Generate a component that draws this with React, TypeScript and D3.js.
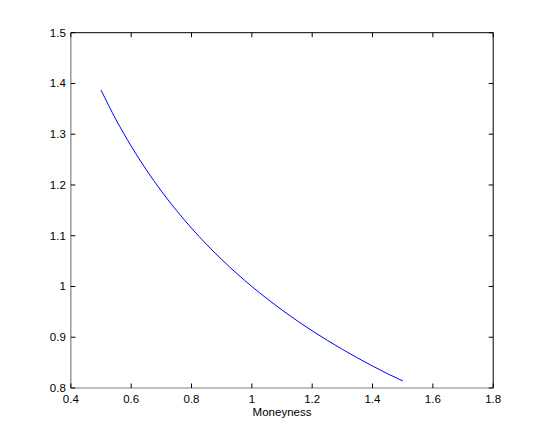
import React from "react";
import * as d3 from "d3";

const moneyness = [0.5, 0.55, 0.6, 0.65, 0.7, 0.75, 0.8, 0.85, 0.9, 0.95, 1.0, 1.05, 1.1, 1.15, 1.2, 1.25, 1.3, 1.35, 1.4, 1.45, 1.5];
const values = [1.387, 1.3283, 1.2765, 1.23, 1.188, 1.1498, 1.1149, 1.0828, 1.0532, 1.0256, 1.0, 0.9761, 0.9536, 0.9325, 0.9126, 0.8939, 0.8762, 0.8593, 0.8433, 0.8281, 0.814];
const xTicks = [0.4, 0.6, 0.8, 1, 1.2, 1.4, 1.6, 1.8];
const yTicks = [0.8, 0.9, 1, 1.1, 1.2, 1.3, 1.4, 1.5];
const xLabel = "Moneyness";

const W = 545;
const H = 436;
const left = 70.85;
const right = 493.2;
const top = 32.7;
const bottom = 388;

export default function App() {
  const x = d3.scaleLinear().domain([0.4, 1.8]).range([left, right]);
  const y = d3.scaleLinear().domain([0.8, 1.5]).range([bottom, top]);
  const line = d3
    .line<number>()
    .x((_, i) => x(moneyness[i]))
    .y((d) => y(d))
    .curve(d3.curveMonotoneX);
  const font = "'Liberation Sans', Arial, sans-serif";
  const tl = 4.5;
  return (
    <svg width={W} height={H} style={{ position: "absolute", left: 0, top: 0, background: "#fff" }}>
      <rect x={0} y={0} width={W} height={H} fill="#fff" />
      <path d={line(values) || ""} fill="none" stroke="#0000ff" strokeWidth={1} />
      <line x1={left} x2={right} y1={top} y2={top} stroke="#000" strokeWidth={1} />
      <line x1={right} x2={right} y1={top} y2={bottom} stroke="#000" strokeWidth={1} />
      <line x1={left} x2={right} y1={bottom} y2={bottom} stroke="#808080" strokeWidth={1.2} />
      <line x1={left} x2={left} y1={top} y2={bottom} stroke="#808080" strokeWidth={1.2} />
      {xTicks.map((t) => (
        <g key={"x" + t}>
          <line x1={x(t)} x2={x(t)} y1={bottom} y2={bottom - tl} stroke="#000" />
          <line x1={x(t)} x2={x(t)} y1={top} y2={top + tl} stroke="#000" />
          <text x={x(t)} y={bottom + 15} textAnchor="middle" fontFamily={font} fontSize={11.5} fill="#000">
            {String(t)}
          </text>
        </g>
      ))}
      {yTicks.map((t) => (
        <g key={"y" + t}>
          <line x1={left} x2={left + tl} y1={y(t)} y2={y(t)} stroke="#000" />
          <line x1={right} x2={right - tl} y1={y(t)} y2={y(t)} stroke="#000" />
          <text x={left - 5} y={y(t) + 4} textAnchor="end" fontFamily={font} fontSize={11.5} fill="#000">
            {String(t)}
          </text>
        </g>
      ))}
      <text x={(left + right) / 2} y={bottom + 28} textAnchor="middle" fontFamily={font} fontSize={11.5} fill="#000">
        {xLabel}
      </text>
    </svg>
  );
}
